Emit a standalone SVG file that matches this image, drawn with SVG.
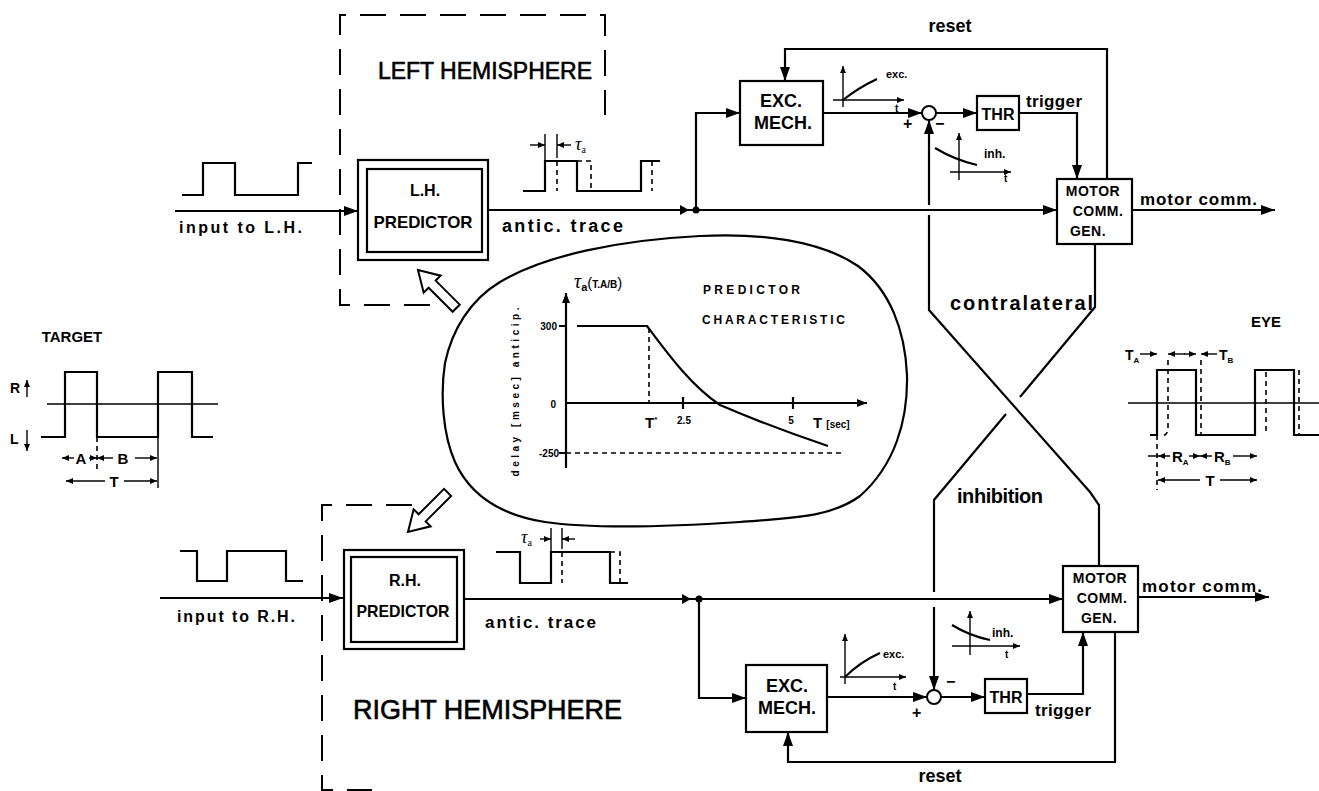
<svg xmlns="http://www.w3.org/2000/svg" width="1319" height="791" viewBox="0 0 1319 791">
<defs>
<style>
.t{font-family:"Liberation Sans",Arial,Helvetica,sans-serif;fill:#000}
.b{font-weight:bold}
.hm{stroke:#000;stroke-width:0.6}
.g{font-family:"Liberation Serif","Times New Roman",serif;font-style:italic;fill:#000}
.ln{stroke:#000;stroke-width:2.2;fill:none}
.th{stroke:#000;stroke-width:1.4;fill:none}
.bx{fill:#fff;stroke:#000;stroke-width:2.2}
.hd{stroke:#000;stroke-width:2;fill:none;stroke-dasharray:26 14}
.ds{stroke:#000;stroke-width:1.6;fill:none;stroke-dasharray:5 4}
.ha{fill:#fff;stroke:#000;stroke-width:2;stroke-linejoin:miter}
</style>
<marker id="a" viewBox="0 0 14 10" refX="14" refY="5" markerWidth="14" markerHeight="10" orient="auto" markerUnits="userSpaceOnUse"><path d="M0,0L14,5L0,10z"/></marker>
<marker id="m" viewBox="0 0 10 8" refX="10" refY="4" markerWidth="10" markerHeight="8" orient="auto" markerUnits="userSpaceOnUse"><path d="M0,0L10,4L0,8z"/></marker>
<marker id="s" viewBox="0 0 7 6" refX="7" refY="3" markerWidth="7" markerHeight="6" orient="auto" markerUnits="userSpaceOnUse"><path d="M0,0L7,3L0,6z"/></marker>
</defs>
<rect width="1319" height="791" fill="#fff"/>

<g id="left-hemisphere">
<path class="hd" d="M430,305 H340 V15 H605 V115"/>
<text class="t hm" x="378" y="79" font-size="23" textLength="214" lengthAdjust="spacing">LEFT HEMISPHERE</text>
</g>
<g id="right-hemisphere">
<path class="hd" d="M412,505 H322 V790 H372"/>
<text class="t hm" x="353" y="719" font-size="27" textLength="269" lengthAdjust="spacing">RIGHT HEMISPHERE</text>
</g>

<g id="connectors">
<!-- left hemisphere -->
<path class="ln" d="M175,211 H358" marker-end="url(#a)"/>
<path class="ln" d="M488,210 H1057" marker-end="url(#a)"/>
<polygon points="680,205 689,210 680,215"/>
<circle cx="696" cy="210" r="3.5"/>
<path class="ln" d="M696,210 V113 H740" marker-end="url(#a)"/>
<path class="ln" d="M823,113 H922" marker-end="url(#a)"/>
<path class="ln" d="M936,113 H977" marker-end="url(#a)"/>
<path class="ln" d="M1019,113 H1077 V179" marker-end="url(#a)"/>
<path class="ln" d="M1107,179 V49 H785 V81" marker-end="url(#a)"/>
<path class="ln" d="M1132,210 H1275" marker-end="url(#a)"/>
<!-- contralateral inhibition -->
<path class="ln" d="M1099,566 V505 L1090,492 L929,310 V215"/>
<path class="ln" d="M929,205 V120" marker-end="url(#a)"/>
<path class="ln" d="M1095,244 V307 L1020,397"/>
<path class="ln" d="M1006,414 L934,500 V592"/>
<path class="ln" d="M934,607 V690" marker-end="url(#a)"/>
<!-- right hemisphere -->
<path class="ln" d="M160,598 H343" marker-end="url(#a)"/>
<path class="ln" d="M464,599 H1063" marker-end="url(#a)"/>
<polygon points="682,594 691,599 682,604"/>
<circle cx="699" cy="599" r="3.5"/>
<path class="ln" d="M699,599 V698 H746" marker-end="url(#a)"/>
<path class="ln" d="M827,697 H927" marker-end="url(#a)"/>
<path class="ln" d="M941,697 H985" marker-end="url(#a)"/>
<path class="ln" d="M1027,694 H1083 V632" marker-end="url(#a)"/>
<path class="ln" d="M1115,632 V762 H788 V732" marker-end="url(#a)"/>
<path class="ln" d="M1138,597 H1269" marker-end="url(#a)"/>
</g>

<g id="connector-labels">
<text class="t b" x="179" y="233" font-size="16" textLength="123" lengthAdjust="spacing">input to L.H.</text>
<text class="t b" x="502" y="232" font-size="18" textLength="121" lengthAdjust="spacing">antic. trace</text>
<text class="t b" x="950" y="32" font-size="18" text-anchor="middle">reset</text>
<text class="t b" x="1026" y="107" font-size="17" textLength="56" lengthAdjust="spacing">trigger</text>
<text class="t b" x="1140" y="205" font-size="17" textLength="117" lengthAdjust="spacing">motor comm.</text>
<text class="t b" x="950" y="310" font-size="20" textLength="143" lengthAdjust="spacing">contralateral</text>
<text class="t b" x="957" y="503" font-size="20" textLength="86" lengthAdjust="spacing">inhibition</text>
<text class="t b" x="177" y="622" font-size="16" textLength="118" lengthAdjust="spacing">input to R.H.</text>
<text class="t b" x="485" y="628" font-size="17" textLength="111" lengthAdjust="spacing">antic. trace</text>
<text class="t b" x="1035" y="716" font-size="17" textLength="56" lengthAdjust="spacing">trigger</text>
<text class="t b" x="1142" y="592" font-size="17" textLength="120" lengthAdjust="spacing">motor comm.</text>
<text class="t b" x="940" y="782" font-size="18" text-anchor="middle">reset</text>
<text class="t b" x="903" y="129" font-size="16">+</text>
<text class="t b" x="935" y="129" font-size="16">−</text>
<text class="t b" x="912" y="718" font-size="16">+</text>
<text class="t b" x="946" y="687" font-size="16">−</text>
</g>

<g id="lh-predictor">
<rect class="bx" x="358" y="160" width="130" height="100"/>
<rect class="bx" x="367" y="169" width="115" height="83"/>
<text class="t b" x="425" y="196" font-size="16" text-anchor="middle">L.H.</text>
<text class="t b" x="423" y="228" font-size="17" text-anchor="middle" textLength="99" lengthAdjust="spacingAndGlyphs">PREDICTOR</text>
</g>
<g id="rh-predictor">
<rect class="bx" x="344" y="550" width="120" height="99"/>
<rect class="bx" x="351" y="557" width="106" height="85"/>
<text class="t b" x="405" y="586" font-size="16" text-anchor="middle">R.H.</text>
<text class="t b" x="403" y="617" font-size="17" text-anchor="middle" textLength="93" lengthAdjust="spacingAndGlyphs">PREDICTOR</text>
</g>

<g id="exc-mech-left">
<rect class="bx" x="740" y="81" width="83" height="64"/>
<text class="t b" x="781" y="107" font-size="18" text-anchor="middle">EXC.</text>
<text class="t b" x="783" y="129" font-size="18" text-anchor="middle">MECH.</text>
</g>
<g id="sum-left"><circle cx="929" cy="113" r="7" fill="#fff" stroke="#000" stroke-width="2"/></g>
<g id="thr-left">
<rect class="bx" x="977" y="96" width="42" height="34"/>
<text class="t b" x="998" y="120" font-size="16" text-anchor="middle">THR</text>
</g>
<g id="motor-left">
<rect class="bx" x="1057" y="179" width="75" height="65"/>
<text class="t b" x="1093" y="196" font-size="14" text-anchor="middle" letter-spacing="0.5">MOTOR</text>
<text class="t b" x="1098" y="216" font-size="14" text-anchor="middle" letter-spacing="0.5">COMM.</text>
<text class="t b" x="1088" y="236" font-size="14" text-anchor="middle" letter-spacing="0.5">GEN.</text>
</g>

<g id="exc-mech-right">
<rect class="bx" x="746" y="665" width="81" height="67"/>
<text class="t b" x="787" y="692" font-size="18" text-anchor="middle">EXC.</text>
<text class="t b" x="787" y="714" font-size="18" text-anchor="middle">MECH.</text>
</g>
<g id="sum-right"><circle cx="934" cy="697" r="7" fill="#fff" stroke="#000" stroke-width="2"/></g>
<g id="thr-right">
<rect class="bx" x="985" y="679" width="42" height="34"/>
<text class="t b" x="1006" y="703" font-size="16" text-anchor="middle">THR</text>
</g>
<g id="motor-right">
<rect class="bx" x="1063" y="566" width="75" height="66"/>
<text class="t b" x="1100" y="583" font-size="14" text-anchor="middle" letter-spacing="0.5">MOTOR</text>
<text class="t b" x="1102" y="603" font-size="14" text-anchor="middle" letter-spacing="0.5">COMM.</text>
<text class="t b" x="1099" y="623" font-size="14" text-anchor="middle" letter-spacing="0.5">GEN.</text>
</g>

<g id="exc-plot-left">
<path class="th" d="M843,107 V66" marker-end="url(#s)"/>
<path class="th" d="M833,100 H904" marker-end="url(#s)"/>
<path class="ln" stroke-width="1.8" d="M843,100 Q858,88 877,79"/>
<text class="t b" x="886" y="78" font-size="11">exc.</text>
<text class="t b" x="895" y="112" font-size="10">t</text>
</g>
<g id="inh-plot-left">
<path class="th" d="M959,180 V133" marker-end="url(#s)"/>
<path class="th" d="M950,172 H1011" marker-end="url(#s)"/>
<path class="ln" stroke-width="1.8" d="M935,148 Q955,160 977,165"/>
<text class="t b" x="984" y="158" font-size="12">inh.</text>
<text class="t b" x="1004" y="182" font-size="10">t</text>
</g>
<g id="exc-plot-right">
<path class="th" d="M845,684 V634" marker-end="url(#s)"/>
<path class="th" d="M840,677 H906" marker-end="url(#s)"/>
<path class="ln" stroke-width="1.8" d="M845,677 Q860,662 880,653"/>
<text class="t b" x="883" y="658" font-size="11">exc.</text>
<text class="t b" x="893" y="690" font-size="10">t</text>
</g>
<g id="inh-plot-right">
<path class="th" d="M970,655 V611" marker-end="url(#s)"/>
<path class="th" d="M952,646 H1020" marker-end="url(#s)"/>
<path class="ln" stroke-width="1.8" d="M952,625 Q970,636 990,640"/>
<text class="t b" x="992" y="637" font-size="12">inh.</text>
<text class="t b" x="1005" y="658" font-size="10">t</text>
</g>

<g id="input-lh-wave">
<path class="ln" d="M182,195 H203 V163 H235 V195 H298 V163 H312"/>
</g>
<g id="antic-lh-wave">
<path class="ln" d="M523,191 H545 V161 H577 V191 H641 V161 H660"/>
<path class="ds" d="M557,161 V191"/>
<path class="ds" d="M577,161 H591 V191"/>
<path class="ds" d="M652,161 V191"/>
<path class="th" d="M545,134 V161 M557,134 V158"/>
<path class="th" d="M530,145 H545" marker-end="url(#s)"/>
<path class="th" d="M571,145 H557" marker-end="url(#s)"/>
<text class="g" x="575" y="150" font-size="18">τ<tspan font-size="10" dy="3" font-style="normal">a</tspan></text>
</g>
<g id="input-rh-wave">
<path class="ln" d="M180,551 H197 V581 H227 V551 H286 V581 H303"/>
</g>
<g id="antic-rh-wave">
<path class="ln" d="M496,552 H520 V583 H551 V552 H610 V583 H628"/>
<path class="ds" d="M562,552 V583"/>
<path class="ds" d="M610,552 H620 V583"/>
<path class="th" d="M551,528 V552 M562,528 V549"/>
<path class="th" d="M540,539 H551" marker-end="url(#s)"/>
<path class="th" d="M575,539 H562" marker-end="url(#s)"/>
<text class="g" x="521" y="543" font-size="18">τ<tspan font-size="10" dy="3" font-style="normal">a</tspan></text>
</g>

<g id="target">
<text class="t b" x="72" y="342" font-size="15" text-anchor="middle">TARGET</text>
<line class="th" x1="47" y1="404" x2="218" y2="404"/>
<path class="ln" d="M41,437 H65 V372 H97 V437 H158 V372 H192 V437 H213"/>
<text class="t b" x="10" y="393" font-size="14">R</text>
<path class="th" d="M27,397 V380" marker-end="url(#s)"/>
<text class="t b" x="10" y="444" font-size="14">L</text>
<path class="th" d="M27,430 V451" marker-end="url(#s)"/>
<path class="ds" stroke-width="1.2" d="M97,437 V471"/>
<line class="th" x1="158" y1="437" x2="158" y2="488"/>
<path class="th" d="M74,458 H62" marker-end="url(#s)"/>
<path class="th" d="M89,458 H97" marker-end="url(#s)"/>
<path class="th" d="M113,458 H97" marker-end="url(#s)"/>
<path class="th" d="M135,458 H157" marker-end="url(#s)"/>
<text class="t b" x="81" y="464" font-size="15" text-anchor="middle">A</text>
<text class="t b" x="123" y="464" font-size="15" text-anchor="middle">B</text>
<path class="th" d="M105,481 H66" marker-end="url(#s)"/>
<path class="th" d="M124,481 H157" marker-end="url(#s)"/>
<text class="t b" x="114" y="487" font-size="15" text-anchor="middle">T</text>
</g>

<g id="eye">
<text class="t b" x="1266" y="327" font-size="15" text-anchor="middle">EYE</text>
<line class="th" x1="1128" y1="403" x2="1319" y2="403"/>
<path class="ln" d="M1150,435 H1157 V370 H1196 V435 H1255 V370 H1294 V435 H1319"/>
<path class="ds" stroke-width="1.3" d="M1168,360 V428 Q1168,435 1162,436"/>
<path class="ds" stroke-width="1.3" d="M1201,360 V435 H1206"/>
<path class="ds" stroke-width="1.1" d="M1266,372 V435"/>
<path class="ds" stroke-width="1.1" d="M1299,370 V435"/>
<text class="t b" x="1125" y="360" font-size="14">T<tspan font-size="8" dy="3">A</tspan></text>
<text class="t b" x="1219" y="360" font-size="14">T<tspan font-size="8" dy="3">B</tspan></text>
<path class="th" d="M1140,354 H1157" marker-end="url(#s)"/>
<path class="th" d="M1185,354 H1168" marker-end="url(#s)"/>
<path class="th" d="M1184,354 H1196" marker-end="url(#s)"/>
<path class="th" d="M1217,354 H1201" marker-end="url(#s)"/>
<path class="ds" stroke-width="1.2" d="M1157,435 V490"/>
<path class="th" d="M1148,456 H1170 M1170,456 H1158" marker-end="url(#s)"/>
<text class="t b" x="1172" y="462" font-size="15">R<tspan font-size="8" dy="3">A</tspan></text>
<path class="th" d="M1189,456 H1200" marker-end="url(#s)"/>
<path class="th" d="M1212,456 H1200" marker-end="url(#s)"/>
<text class="t b" x="1214" y="462" font-size="15">R<tspan font-size="8" dy="3">B</tspan></text>
<path class="th" d="M1233,456 H1257" marker-end="url(#s)"/>
<path class="th" d="M1200,480 H1158" marker-end="url(#s)"/>
<path class="th" d="M1220,480 H1257" marker-end="url(#s)"/>
<text class="t b" x="1210" y="486" font-size="15" text-anchor="middle">T</text>
</g>

<g id="predictor-characteristic">
<path class="ln" stroke-width="2" d="M445,363 C452,330 470,300 500,282 C545,255 620,240 700,236 C760,233 820,240 858,266 C890,290 905,330 907,375 C908,420 895,465 860,496 C830,518 790,518 740,522 C680,526 600,530 545,522 C500,515 470,495 455,462 C443,435 440,395 445,363 Z"/>
<path class="ln" d="M566,468 V293" marker-end="url(#m)"/>
<path class="ln" d="M566,403 H867" marker-end="url(#m)"/>
<path class="ln" d="M559,326 H566 M559,453 H566 M683,397 V409 M793,397 V409"/>
<path class="ds" stroke-width="1.4" d="M566,453 H843" stroke-dasharray="10 7"/>
<path class="ds" stroke-width="1.2" d="M649,328 V403"/>
<path class="ln" stroke-width="2.6" d="M577,326 H647 C665,350 690,385 720,405 C755,420 795,435 828,446"/>
<text class="g" x="574" y="288" font-size="20">τ<tspan font-size="11" dy="3" font-style="normal" font-family="Liberation Sans" font-weight="bold">a</tspan><tspan dy="-3" font-style="normal" font-family="Liberation Sans" font-size="15">(</tspan><tspan font-style="normal" font-family="Liberation Sans" font-size="10" font-weight="bold">T.A/B</tspan><tspan font-style="normal" font-family="Liberation Sans" font-size="15">)</tspan></text>
<text class="t b" x="703" y="294" font-size="12" textLength="97" lengthAdjust="spacing">PREDICTOR</text>
<text class="t b" x="702" y="324" font-size="12" textLength="143" lengthAdjust="spacing">CHARACTERISTIC</text>
<text class="t b" x="557" y="330" font-size="10" text-anchor="end">300</text>
<text class="t b" x="556" y="408" font-size="10" text-anchor="end">0</text>
<text class="t b" x="559" y="457" font-size="10" text-anchor="end">-250</text>
<text class="t b" x="645" y="428" font-size="15">T<tspan font-size="8" dy="-6">*</tspan></text>
<text class="t b" x="684" y="424" font-size="10" text-anchor="middle">2.5</text>
<text class="t b" x="791" y="424" font-size="10" text-anchor="middle">5</text>
<text class="t b" x="813" y="428" font-size="15">T <tspan font-size="10">[sec]</tspan></text>
<text class="t b" transform="translate(519,392) rotate(-90)" font-size="10" text-anchor="middle" textLength="169" lengthAdjust="spacing">delay  [msec]  anticip.</text>
</g>

<g id="hint-arrows">
<polygon class="ha" transform="translate(418,270) rotate(45)" points="0,0 20,-12 20,-5 54,-5 54,5 20,5 20,12"/>
<polygon class="ha" transform="translate(408,532) rotate(-45)" points="0,0 20,-12 20,-5 56,-5 56,5 20,5 20,12"/>
</g>
</svg>
